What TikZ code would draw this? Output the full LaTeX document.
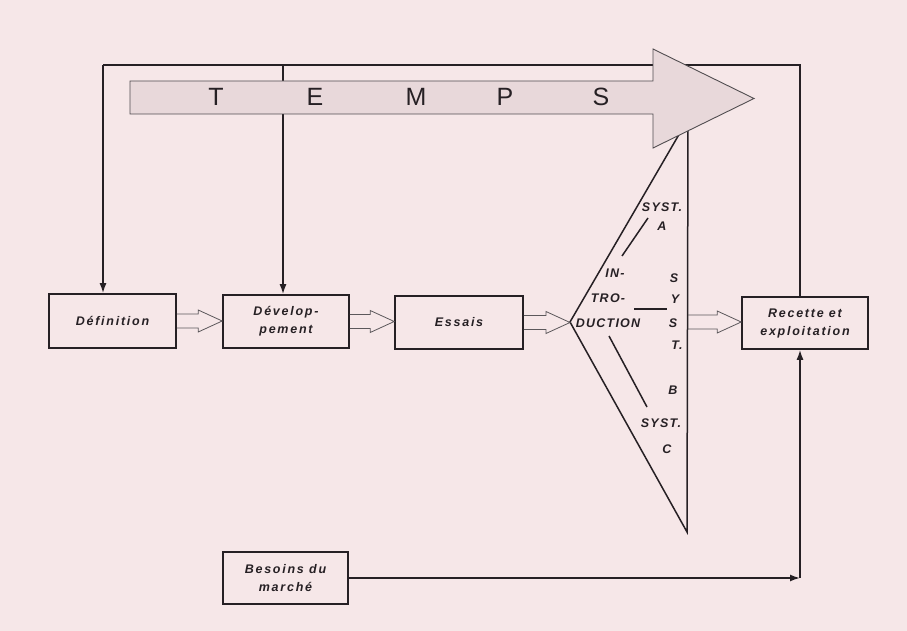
\documentclass[tikz,border=0pt]{standalone}
\usepackage{fontspec}
\setmainfont{Liberation Sans}
\usetikzlibrary{arrows.meta,calc}
\definecolor{bg}{RGB}{246,231,232}
\definecolor{arrfill}{RGB}{232,216,218}
\definecolor{ink}{RGB}{38,32,36}
\newcommand\boxfont{\fontsize{12.5}{18}\selectfont\bfseries\itshape\addfontfeatures{LetterSpace=14}}
\newcommand\trifont{\fontsize{12.5}{14}\selectfont\bfseries\itshape\addfontfeatures{LetterSpace=10}}
\newcommand\fatarr[2]{\draw[fatline] let \p1=(#1), \p2=(#2) in
  (\x1,\y1+7pt) -- (\x2-24pt,\y1+7pt) -- (\x2-24pt,\y1+11pt) -- (\x2,\y1)
  -- (\x2-24pt,\y1-11pt) -- (\x2-24pt,\y1-7pt) -- (\x1,\y1-7pt);}
\tikzset{
  blk/.style={draw=ink, line width=1.6pt, inner sep=0pt, align=center, text=ink, font=\boxfont},
  frameline/.style={draw=ink, line width=1.6pt},
  arr/.style={-{Latex[length=10pt,width=7pt]}},
  fatline/.style={draw=ink!75, line width=0.8pt},
  triline/.style={draw=ink, line width=1.5pt},
  tritext/.style={text=ink, font=\trifont, inner sep=0pt},
  temps/.style={text=ink, font=\fontsize{25}{25}\selectfont, inner sep=0pt}
}
\begin{document}
\begin{tikzpicture}[x=1pt,y=-1pt]
\path[fill=bg] (0,0) rectangle (907,631);
\useasboundingbox (0,0) rectangle (907,631);

% boxes
\node[blk, minimum width=127pt, minimum height=54pt] (def) at (112.5,321) {Définition};
\node[blk, minimum width=126pt, minimum height=53pt] (dev) at (286,321.5) {Dévelop-\\pement};
\node[blk, minimum width=128pt, minimum height=53pt] (ess) at (459,322.5) {Essais};
\node[blk, minimum width=126pt, minimum height=52pt] (rec) at (805,323) {Recette et\\exploitation};
\node[blk, minimum width=125pt, minimum height=52pt] (bes) at (285.5,578) {Besoins du\\marché};

% frame
\coordinate (tl) at (103,65);
\coordinate (tm) at (283,65);
\coordinate (tr) at (800,65);
\coordinate (br) at (800,578);
\draw[frameline, arr] (tl) -- (tl |- def.north);
\draw[frameline] (tl) -- (tr) -- (tr |- rec.north);
\draw[frameline, arr] (tm) -- (tm |- dev.north);
\draw[frameline, arr] (bes.east) -- (br);
\draw[frameline, arr] (br) -- (br |- rec.south);

% triangle
\coordinate (ttop) at (688,119);
\coordinate (tleft) at (570,322);
\coordinate (tbot) at (687,532);
\coordinate (tright) at (688,322);
\draw[triline, line join=miter] (ttop) -- (tleft) -- (tbot) -- cycle;

\node[tritext] (sa) at (662,207) {SYST.};
\node[tritext] (a) at (662,226) {A};
\coordinate (la1) at (648,218);
\coordinate (la2) at (622,256);
\draw[triline] (la1) -- (la2);
\node[tritext] (in) at (615,273) {IN-};
\node[tritext] (tro) at (608,298) {TRO-};
\node[tritext] (duc) at (608,323) {DUCTION};
\coordinate (lb1) at (634,309);
\coordinate (lb2) at (667,309);
\draw[triline] (lb1) -- (lb2);
\node[tritext] (s1) at (674,278) {S};
\node[tritext] (y1) at (675,299) {Y};
\node[tritext] (s2) at (673,323) {S};
\node[tritext] (t1) at (677,345) {T.};
\coordinate (lc1) at (609,336);
\coordinate (lc2) at (647,407);
\draw[triline] (lc1) -- (lc2);
\node[tritext] (b) at (673,390) {B};
\node[tritext] (sc) at (661,423) {SYST.};
\node[tritext] (c) at (667,449) {C};

% fat arrows
\fatarr{def.east}{dev.west}
\fatarr{dev.east}{ess.west}
\fatarr{ess.east}{tleft}
\fatarr{tright}{rec.west}

% TEMPS arrow
\draw[fill=arrfill, draw=ink!80, line width=0.9pt, line join=miter]
  (130,81) -- (653,81) -- (653,49) -- (754,98.5) -- (653,148) -- (653,114) -- (130,114) -- cycle;
\node[temps] (lT) at (216,97) {T};
\node[temps] (lE) at (315,97) {E};
\node[temps] (lM) at (416,97) {M};
\node[temps] (lP) at (505,97) {P};
\node[temps] (lS) at (601,97) {S};
\end{tikzpicture}
\end{document}
